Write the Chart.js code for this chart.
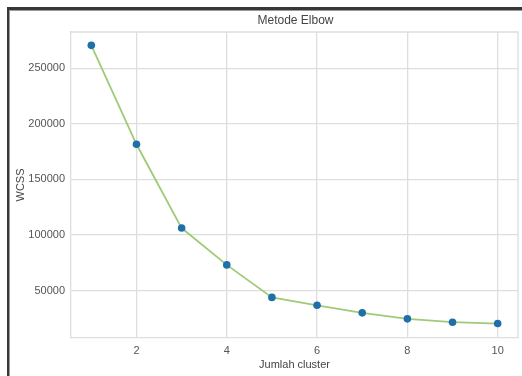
<!DOCTYPE html>
<html>
<head>
<meta charset="utf-8">
<script src="https://cdn.jsdelivr.net/npm/chart.js@4.4.0/dist/chart.umd.min.js"></script>
<style>
    html, body { margin: 0; padding: 0; background: #fff; overflow: hidden; }
    #wrap { position: relative; width: 522px; height: 376px; }
    #frame {
        position: absolute; left: 7px; top: 7px; right: -10px; bottom: -10px;
        border-top: 3px solid #383838; border-left: 2px solid #383838;
        box-shadow: inset 1px 1px 0 #9a9a9a;
        pointer-events: none;
    }
</style>
</head>
<body>
<div id="wrap">
    <canvas id="elbowChart" width="522" height="376"></canvas>
    <div id="frame"></div>
</div>
<script>
// Data
const clusters = [1, 2, 3, 4, 5, 6, 7, 8, 9, 10];
const wcss = [270500, 181600, 106300, 73200, 44000, 36900, 30100, 24700, 21700, 20500];
const xTicks = [2, 4, 6, 8, 10];
const yTicks = [50000, 100000, 150000, 200000, 250000];

const FONT = '"Liberation Sans", Arial, sans-serif';
const gridColor = '#dedede';

// Title centered over the plot area, plus the top/right spines
const plotTitle = {
    id: 'plotTitle',
    beforeDatasetsDraw(chart) {
        const { ctx, chartArea } = chart;
        ctx.save();
        ctx.strokeStyle = gridColor;
        ctx.lineWidth = 1.3;
        ctx.beginPath();
        ctx.moveTo(chartArea.left, chartArea.top);
        ctx.lineTo(chartArea.right, chartArea.top);
        ctx.lineTo(chartArea.right, chartArea.bottom);
        ctx.stroke();
        ctx.restore();
    },
    afterDraw(chart) {
        const { ctx, chartArea } = chart;
        ctx.save();
        ctx.font = '12px ' + FONT;
        ctx.fillStyle = '#444';
        ctx.textAlign = 'center';
        ctx.textBaseline = 'middle';
        ctx.fillText('Metode Elbow', (chartArea.left + chartArea.right) / 2 + 1, chartArea.top - 11);
        ctx.restore();
    }
};

const ctx = document.getElementById('elbowChart').getContext('2d');
new Chart(ctx, {
    type: 'line',
    data: {
        datasets: [{
            data: clusters.map((c, i) => ({ x: c, y: wcss[i] })),
            borderColor: '#9fcb78',
            borderWidth: 1.8,
            pointBackgroundColor: '#1f6fa8',
            pointBorderColor: '#1f6fa8',
            pointRadius: 3.8,
            pointBorderWidth: 0,
            tension: 0,
            fill: false
        }]
    },
    options: {
        responsive: false,
        animation: false,
        layout: { padding: { top: 32, right: 4, left: 0, bottom: 0 } },
        plugins: {
            legend: { display: false },
            tooltip: { enabled: false }
        },
        scales: {
            x: {
                type: 'linear',
                min: 0.55,
                max: 10.45,
                afterBuildTicks: function(scale) {
                    scale.ticks = xTicks.map(v => ({ value: v }));
                },
                afterFit: function(scale) { scale.height = 38; },
                grid: { color: gridColor, lineWidth: 1.3, drawTicks: false },
                border: { color: gridColor, width: 1.3 },
                ticks: {
                    padding: 6,
                    color: '#555',
                    font: { family: FONT, size: 11 }
                },
                title: {
                    display: true,
                    text: 'Jumlah cluster',
                    color: '#444',
                    font: { family: FONT, size: 11 },
                    padding: { top: 0, bottom: 4 }
                }
            },
            y: {
                type: 'linear',
                min: 7500,
                max: 282500,
                afterBuildTicks: function(scale) {
                    scale.ticks = yTicks.map(v => ({ value: v }));
                },
                afterFit: function(scale) { scale.width = 71; },
                grid: { color: gridColor, lineWidth: 1.3, drawTicks: false },
                border: { color: gridColor, width: 1.3 },
                ticks: {
                    padding: 6,
                    color: '#555',
                    font: { family: FONT, size: 11 },
                    callback: function(value) { return String(value); }
                },
                title: {
                    display: true,
                    text: 'WCSS',
                    color: '#444',
                    font: { family: FONT, size: 11 },
                    padding: { top: 14, bottom: 0 }
                }
            }
        }
    },
    plugins: [plotTitle]
});
</script>
</body>
</html>
